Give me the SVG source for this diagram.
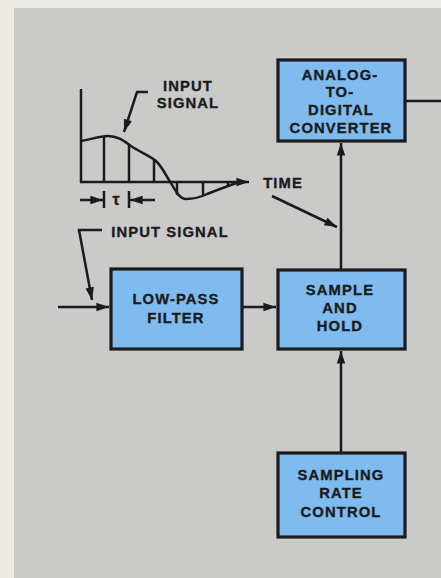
<svg xmlns="http://www.w3.org/2000/svg" width="441" height="578" viewBox="0 0 441 578">
<style>
.box{fill:#7fbbee;stroke:#1b1b1d;stroke-width:3.2}
.t{font-family:"Liberation Sans",Arial,sans-serif;font-weight:bold;font-size:14.8px;letter-spacing:1.1px;fill:#1b1b1d;stroke:#1b1b1d;stroke-width:0.35;text-anchor:middle}
.ln{stroke:#1b1b1d;stroke-width:2.5;fill:none}
</style>
<defs>
<marker id="ah" viewBox="0 0 12 10" refX="12" refY="5" markerWidth="6" markerHeight="4.2" orient="auto" markerUnits="strokeWidth">
<path d="M0,1 L12,5 L0,9 Z" fill="#1b1b1d"/>
</marker>
</defs>
<rect x="0" y="0" width="441" height="578" fill="#ece9e3"/>
<rect x="14" y="8" width="427" height="570" fill="#cacac8"/>

<g id="connectors">
<line class="ln" x1="405" y1="101" x2="441" y2="101"/>
<line class="ln" x1="341" y1="270" x2="341" y2="143" marker-end="url(#ah)"/>
<line class="ln" x1="341" y1="453" x2="341" y2="351" marker-end="url(#ah)"/>
<line class="ln" x1="242" y1="307" x2="276" y2="307" marker-end="url(#ah)"/>
<line class="ln" x1="58" y1="307" x2="109" y2="307" marker-end="url(#ah)"/>
<polyline class="ln" points="102,230 79,230 92,300" marker-end="url(#ah)"/>
<line class="ln" x1="272" y1="196" x2="337" y2="227" marker-end="url(#ah)"/>
</g>

<g id="graph">
<line class="ln" x1="81" y1="89" x2="81" y2="183"/>
<line class="ln" x1="80" y1="182" x2="249" y2="182" marker-end="url(#ah)"/>
<path class="ln" d="M81,141 C92,139 100,136 108,136 C118,136 124,141 131,146 C140,152 150,156 156,161 C163,168 166,176 171,183 C176,192 180,199 186,199 C196,199 201,197 207,194 C220,189 230,185 240,182"/>
<line class="ln" x1="104" y1="182" x2="104" y2="137"/>
<line class="ln" x1="129" y1="182" x2="129" y2="145"/>
<line class="ln" x1="154" y1="182" x2="154" y2="159"/>
<line class="ln" x1="177" y1="182" x2="177" y2="195"/>
<line class="ln" x1="203" y1="182" x2="203" y2="195"/>
<line class="ln" x1="228" y1="182" x2="228" y2="187"/>
<line class="ln" x1="104" y1="191" x2="104" y2="208"/>
<line class="ln" x1="129" y1="191" x2="129" y2="208"/>
<line class="ln" x1="80" y1="200" x2="103" y2="200" marker-end="url(#ah)"/>
<line class="ln" x1="155" y1="200" x2="130" y2="200" marker-end="url(#ah)"/>
<text class="t" x="116" y="205" style="font-size:16px;letter-spacing:0">τ</text>
<polyline class="ln" points="148,92 137,92 124,132" marker-end="url(#ah)"/>
<text class="t" x="188" y="91">INPUT</text>
<text class="t" x="188" y="108">SIGNAL</text>
<text class="t" x="283" y="188">TIME</text>
<text class="t" x="170" y="237">INPUT SIGNAL</text>
</g>

<g id="adc">
<rect class="box" x="278" y="60" width="127" height="81"/>
<text class="t" x="340" y="80">ANALOG-</text>
<text class="t" x="340" y="97">TO-</text>
<text class="t" x="341" y="115">DIGITAL</text>
<text class="t" x="341" y="133">CONVERTER</text>
</g>

<g id="lpf">
<rect class="box" x="111" y="269" width="131" height="80"/>
<text class="t" x="176" y="304">LOW-PASS</text>
<text class="t" x="176" y="323">FILTER</text>
</g>

<g id="sh">
<rect class="box" x="278" y="270" width="127" height="79"/>
<text class="t" x="340" y="295">SAMPLE</text>
<text class="t" x="340" y="313">AND</text>
<text class="t" x="340" y="331">HOLD</text>
</g>

<g id="src">
<rect class="box" x="278" y="453" width="127" height="84"/>
<text class="t" x="341" y="480">SAMPLING</text>
<text class="t" x="341" y="498">RATE</text>
<text class="t" x="341" y="517">CONTROL</text>
</g>
</svg>
